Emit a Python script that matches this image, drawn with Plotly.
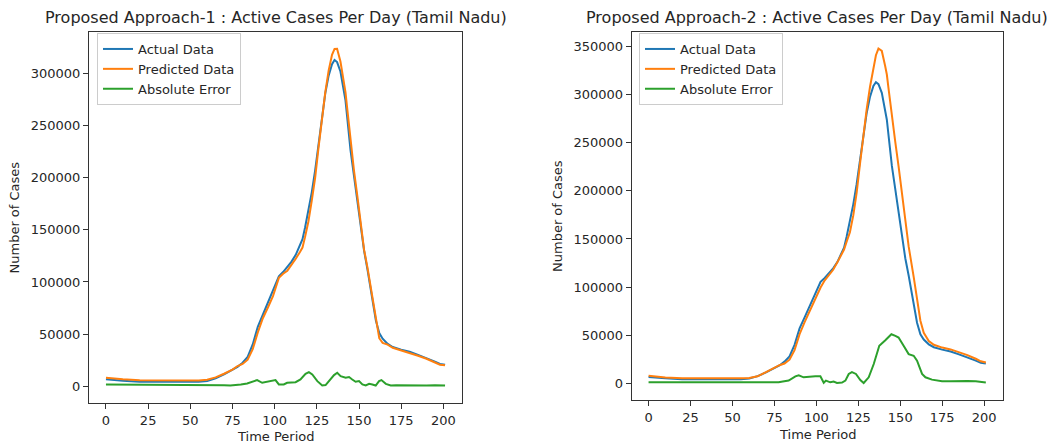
import plotly.graph_objects as go

# ---------------- data ----------------
t_main = [0, 5, 10, 20, 30, 40, 50, 55, 60, 65,
          70, 75, 78, 81, 84, 87, 90, 93, 96, 99,
          102.5, 105, 107.5, 110, 112.5, 115, 116.5, 118, 120, 122,
          124, 126, 128, 130, 132, 134, 135.5, 137, 139, 141,
          142, 143, 145, 147, 149, 151, 153, 155, 158, 160,
          162, 164, 167, 170, 175, 180, 185, 190, 195, 198,
          201]

actual = [6500, 5700, 5100, 4300, 4100, 4000, 4000, 4200, 5000, 7400,
          11300, 15500, 18500, 22500, 28000, 40000, 57000, 68500, 80000, 92000,
          105500, 109500, 114000, 119500, 126000, 135000, 141000, 152000, 168000, 186000,
          207000, 232000, 259000, 281000, 298000, 309000, 313000, 311000, 302000, 285000,
          274000, 258000, 226000, 202000, 178000, 154000, 130000, 112000, 82000, 63000,
          51000, 45500, 40500, 37500, 35000, 33000, 30000, 27000, 23500, 21300,
          20500]

pred_1 = [8000, 7200, 6600, 5700, 5500, 5300, 5300, 5400, 6200, 8400,
          11900, 15900, 19300, 21300, 25400, 35500, 51500, 65200, 75500, 86400,
          103900, 107900, 110800, 116200, 122200, 128800, 133000, 143000, 158000, 178000,
          200000, 229000, 258400, 282000, 302800, 318000, 323600, 323800, 311600, 293000,
          282000, 266500, 233500, 207000, 182500, 157000, 131000, 114000, 83600, 63600,
          46000, 41500, 39800, 36800, 34300, 32200, 29200, 26300, 22700, 20600,
          20000]

pred_2 = [7800, 6700, 6000, 5300, 5100, 5000, 5000, 5100, 5600, 7200,
          11700, 16000, 18800, 20500, 24500, 34500, 51000, 63500, 75000, 86500,
          99500, 107000, 112500, 118000, 125700, 134300, 139000, 147000, 157000, 174500,
          198000, 228200, 258700, 285000, 308500, 328000, 341000, 348000, 345500, 329800,
          321000, 306500, 276500, 251300, 225600, 196000, 166000, 142300, 110600, 86400,
          65000, 52500, 44000, 40000, 37100, 35200, 32500, 29300, 25500, 22800,
          21500]

t_err1 = [0, 10, 20, 30, 40, 50, 60, 66, 70, 73.7,
          77.7, 80, 83.7, 87.6, 89.6, 92.6, 95.5, 98.5, 100.5, 102.5,
          105.4, 107.4, 109.4, 112.4, 115.3, 118.3, 120.3, 122.3, 125.3, 128.2,
          130.2, 132.2, 135.2, 137.1, 139.1, 142.1, 144.1, 146, 148, 150,
          152, 154, 156, 157.9, 159.9, 161.9, 163.3, 165.9, 168.8, 172,
          176, 180, 185, 190, 195, 201]
err_1 = [1500, 1500, 1400, 1400, 1300, 1300, 1200, 1000, 800, 600,
         1000, 1500, 2600, 4800, 5800, 3200, 4200, 5400, 5800, 1600,
         1600, 3200, 3200, 3800, 6400, 11900, 13500, 11200, 4800, 600,
         1000, 4800, 10600, 12800, 9600, 8000, 8700, 6400, 4200, 4800,
         1600, 600, 2200, 1600, 600, 4800, 5800, 2200, 600, 900,
         700, 1000, 800, 700, 900, 500]

t_err2 = [0, 10, 20, 30, 40, 50, 60, 66, 72, 77.5,
          80, 83.5, 87.5, 89.5, 92.4, 95.4, 99.4, 102.4, 104.4, 105.7,
          108.3, 110.3, 112.3, 115.3, 117.3, 119.3, 121.2, 123.6, 126.2, 128.2,
          131.2, 134.2, 137.5, 141.1, 144.7, 147.1, 149, 152, 155, 158,
          160, 163, 165, 168.9, 174.9, 180, 185, 190, 195, 201]
err_2 = [1000, 1000, 1000, 900, 900, 800, 600, 300, 500, 1000,
         1800, 2800, 7200, 8300, 6200, 6900, 7200, 7200, 500, 2800,
         1000, 1700, 300, 700, 2800, 9700, 11700, 9700, 3400, 300,
         6200, 20000, 39000, 44800, 51000, 49300, 47600, 39000, 30300, 28600,
         23400, 9700, 6200, 3800, 2100, 2200, 2500, 2300, 2000, 800]

x_ticks = [0, 25, 50, 75, 100, 125, 150, 175, 200]
y_ticks_1 = [0, 50000, 100000, 150000, 200000, 250000, 300000]
y_ticks_2 = [0, 50000, 100000, 150000, 200000, 250000, 300000, 350000]

titles = ["Proposed Approach-1 : Active Cases Per Day (Tamil Nadu)",
          "Proposed Approach-2 : Active Cases Per Day (Tamil Nadu)"]
names = ["Actual Data", "Predicted Data", "Absolute Error"]
colors = ["#1f77b4", "#ff7f0e", "#2ca02c"]

# ---------------- figure ----------------
W, H = 1060, 448
FONT = "DejaVu Sans"
TXT = "#262626"
FS = 13

fig = go.Figure()

panels = [
    dict(xa="x", ya="y", leg="legend", series=[(t_main, actual), (t_main, pred_1), (t_err1, err_1)]),
    dict(xa="x2", ya="y2", leg="legend2", series=[(t_main, actual), (t_main, pred_2), (t_err2, err_2)]),
]
for p in panels:
    for (tx, vy), nm, c in zip(p["series"], names, colors):
        fig.add_trace(go.Scatter(x=tx, y=vy, mode="lines", name=nm,
                                 line=dict(color=c, width=2),
                                 xaxis=p["xa"], yaxis=p["ya"], legend=p["leg"]))

ax_common = dict(showgrid=False, zeroline=False, showline=True, mirror=True,
                 linecolor="#333333", linewidth=1, ticks="outside", ticklen=5,
                 tickwidth=1, tickcolor="#333333", automargin=False, tickformat="d",
                 tickfont=dict(family=FONT, size=FS, color=TXT))

px = lambda v: v / W
py = lambda v: 1 - v / H

leg_common = dict(xanchor="left", yanchor="top", bgcolor="white",
                  bordercolor="#cccccc", borderwidth=1, tracegroupgap=0,
                  font=dict(family=FONT, size=FS, color=TXT))

fig.update_layout(
    width=W, height=H, margin=dict(l=0, r=0, t=0, b=0),
    paper_bgcolor="white", plot_bgcolor="white", template=None,
    font=dict(family=FONT, color=TXT),
    xaxis=dict(domain=[px(89), px(462)], range=[-10.05, 211.05], tickvals=x_ticks,
               anchor="y", **ax_common),
    yaxis=dict(domain=[py(403), py(32)], range=[-16185, 339885], tickvals=y_ticks_1,
               anchor="x", **ax_common),
    xaxis2=dict(domain=[px(631.7), px(1002.7)], range=[-10.05, 211.05], tickvals=x_ticks,
                anchor="y2", **ax_common),
    yaxis2=dict(domain=[py(400), py(32)], range=[-17390, 365190], tickvals=y_ticks_2,
                anchor="x2", **ax_common),
    legend=dict(x=px(97), y=py(33), **leg_common),
    legend2=dict(x=px(639), y=py(33), **leg_common),
)

ann = []
for cx, ttl in [((89 + 462) / 2, titles[0]), ((631.7 + 1002.7) / 2, titles[1])]:
    ann.append(dict(text=ttl, x=px(cx), y=py(17), xref="paper", yref="paper",
                    showarrow=False, xanchor="center", yanchor="middle",
                    font=dict(family=FONT, size=16, color=TXT)))
for cx, cy in [((89 + 462) / 2, 436), ((631.7 + 1002.7) / 2, 434)]:
    ann.append(dict(text="Time Period", x=px(cx), y=py(cy), xref="paper", yref="paper",
                    showarrow=False, xanchor="center", yanchor="middle",
                    font=dict(family=FONT, size=FS, color=TXT)))
for cx, cy in [(14, (32 + 403) / 2), (557, (32 + 400) / 2)]:
    ann.append(dict(text="Number of Cases", x=px(cx), y=py(cy), xref="paper", yref="paper",
                    showarrow=False, xanchor="center", yanchor="middle", textangle=-90,
                    font=dict(family=FONT, size=FS, color=TXT)))
fig.update_layout(annotations=ann)

fig.write_html("out.html", config={"displayModeBar": False},
               post_script="document.body.style.margin='0px';")
